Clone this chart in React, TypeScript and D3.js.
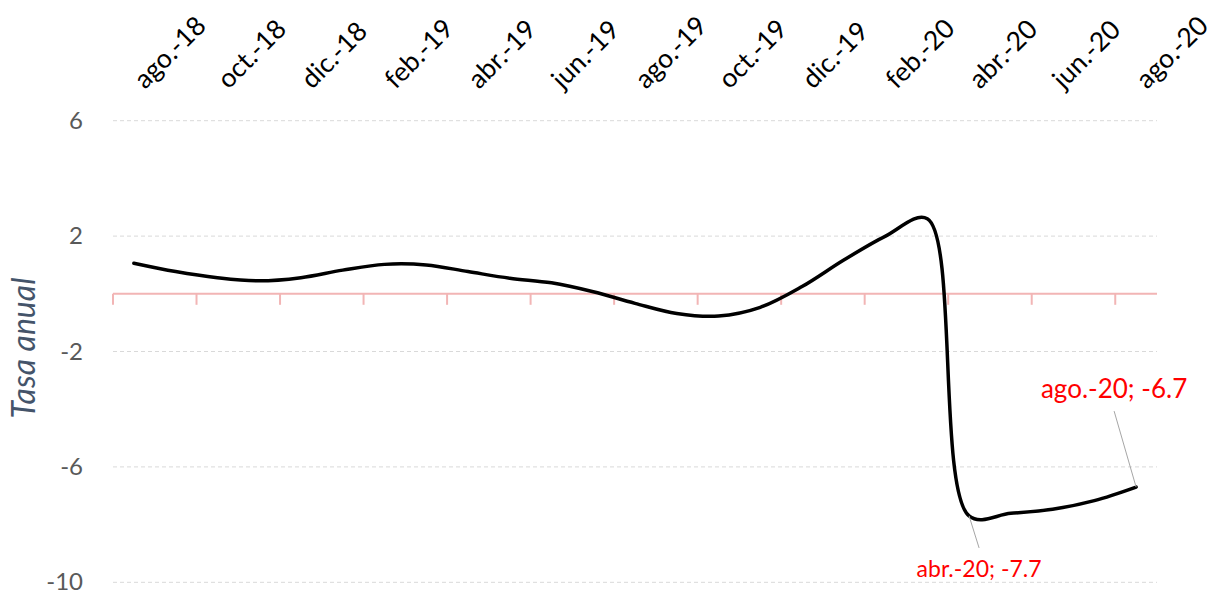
import React from "react";
import { scaleBand, scaleLinear, line, curveCatmullRom } from "d3";

const months = [
  "ago.-18", "sep.-18", "oct.-18", "nov.-18", "dic.-18", "ene.-19", "feb.-19",
  "mar.-19", "abr.-19", "may.-19", "jun.-19", "jul.-19", "ago.-19", "sep.-19",
  "oct.-19", "nov.-19", "dic.-19", "ene.-20", "feb.-20", "mar.-20", "abr.-20",
  "may.-20", "jun.-20", "jul.-20", "ago.-20",
];

const tasa = [
  1.06, 0.77, 0.56, 0.45, 0.56, 0.82, 1.02, 1.0, 0.77, 0.54, 0.38, 0.07, -0.33,
  -0.68, -0.77, -0.47, 0.25, 1.17, 2.0, 2.6, -7.7, -7.61, -7.47, -7.17, -6.7,
];

const yTicks = [6, 2, -2, -6, -10];

const labelled = [
  { month: "abr.-20", value: -7.7, text: "abr.-20; -7.7" },
  { month: "ago.-20", value: -6.7, text: "ago.-20; -6.7" },
];

const W = 1216;
const H = 594;
const left = 113;
const right = 1157;
const top = 120.7;
const bottom = 582.3;
const font = "Lato, 'Open Sans', sans-serif";

export default function App() {
  const x = scaleBand<string>().domain(months).range([left, right]).padding(0);
  const bw = x.bandwidth();
  const cx = (m: string) => (x(m) as number) + bw / 2;
  const y = scaleLinear().domain([-10, 6]).range([bottom, top]);

  const pts = months.map((m, i) => ({ m, v: tasa[i] }));
  const path = line<{ m: string; v: number }>()
    .x((d) => cx(d.m))
    .y((d) => y(d.v))
    .curve(curveCatmullRom.alpha(0.5))(pts);

  const shown = months.filter((_, i) => i % 2 === 0);

  return (
    <div style={{ position: "absolute", left: 0, top: 0 }}>
      <svg width={W} height={H} style={{ display: "block", background: "#fff" }}>
        {yTicks.map((t) => (
          <g key={t}>
            <line
              x1={left}
              x2={right}
              y1={y(t)}
              y2={y(t)}
              stroke="#d9d9d9"
              strokeWidth={1}
              strokeDasharray="4,3"
            />
            <text
              x={83}
              y={y(t) + 8}
              textAnchor="end"
              fontFamily={font}
              fontSize={24}
              fill="#595959"
            >
              {t}
            </text>
          </g>
        ))}

        <line x1={left} x2={right} y1={y(0)} y2={y(0)} stroke="#f2b5b5" strokeWidth={2} />
        {shown.map((m) => (
          <line
            key={m}
            x1={x(m) as number}
            x2={x(m) as number}
            y1={y(0)}
            y2={y(0) + 11}
            stroke="#f2b5b5"
            strokeWidth={2}
          />
        ))}

        {shown.map((m) => (
          <text
            key={m}
            transform={`translate(${cx(m) + 11},${90}) rotate(-45)`}
            fontFamily={font}
            fontSize={26.5}
            fill="#000"
          >
            {m}
          </text>
        ))}

        <text
          transform={`translate(35,348) rotate(-90)`}
          textAnchor="middle"
          fontFamily={font}
          fontStyle="italic"
          fontSize={32}
          fill="#44546a"
        >
          Tasa anual
        </text>

        <path d={path || ""} fill="none" stroke="#000" strokeWidth={3.5} strokeLinejoin="round" strokeLinecap="round" />

        {labelled.map((a, i) => {
          const px = cx(a.month);
          const py = y(a.value);
          const below = i === 0;
          const lx = below ? px + 10 : px - 22;
          const ly = below ? py + 32 : py - 76;
          return (
            <g key={a.month}>
              <line x1={px} y1={py} x2={lx} y2={ly} stroke="#a6a6a6" strokeWidth={1} />
              <text
                x={lx}
                y={below ? ly + 29 : ly - 13}
                textAnchor="middle"
                fontFamily={font}
                fontSize={below ? 23 : 26}
                fill="#ff0000"
              >
                {a.text}
              </text>
            </g>
          );
        })}
      </svg>
    </div>
  );
}
